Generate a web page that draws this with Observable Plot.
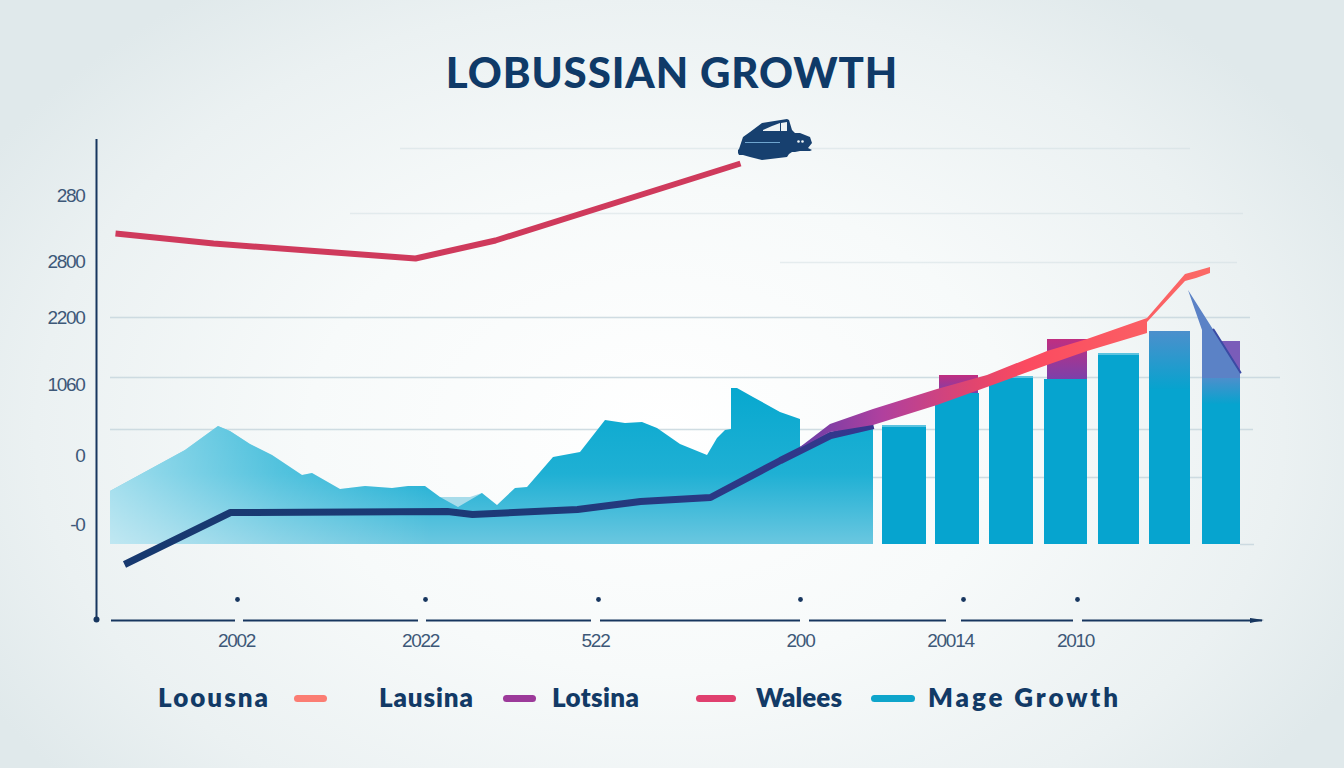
<!DOCTYPE html>
<html><head><meta charset="utf-8">
<script src="https://cdn.jsdelivr.net/npm/d3@7"></script>
<script src="https://cdn.jsdelivr.net/npm/@observablehq/plot@0.6"></script>
<style>
html,body{margin:0;padding:0}
body{width:1344px;height:768px;overflow:hidden;position:relative;
 background:radial-gradient(ellipse 780px 540px at 660px 430px,#ffffff 0%,#f7fafa 45%,#ebf1f2 80%,#e0e9eb 100%);}
#title{height:130px;margin:0;position:relative}
#title span{position:absolute;left:0;width:1344px;top:44px;text-align:center;font:900 42px/56px Lato,sans-serif;color:#0f3a68;letter-spacing:0.9px}
#chart{height:530px}
#chart svg{display:block}
#chart text{letter-spacing:-1.3px}
#legend{height:108px;position:relative;font:800 26px/30px Lato,sans-serif;color:#123a66;letter-spacing:2.2px}
#legend span{position:absolute;top:22px;white-space:nowrap}
#legend i{position:absolute;top:35px;height:7px;border-radius:4px}
</style></head><body>
<h1 id="title"><span>LOBUSSIAN GROWTH</span></h1>
<div id="chart"></div>
<div id="legend"></div>
<script>
// ---- data (x: position along the time axis, y: growth units) ----
const areaX=[0,75,108,120,140,162,192,202,230,255,282,298,315,330,348,372,387,405,417,443,470,495,515,532,547,570,597,607,615,621,621,627,643,670,690,690,720,763];
const areaY=[53,94,118,113,100,89,69,71,55,58,56,58,58,47,37,51,39,56,57,87,92,124,121,122,116,100,89,106,114,115,156,156,147,132,125,94,107,119];
const ghostX=[330,360,372];
const ghostY=[47,47,51];
const redX=[5,103,305,385,630];
const redY=[311,301,286,304,381];
const navyX=[14,120,337,362,467,530,600,670,720,763];
const navyY=[-20,32,33,30,35,43,47,84,109,119];
const ribbonX=[690,720,763,827,877,937,977,1037,1037,1075,1086,1100];
const ribbonLow=[96,112,119,139,157,179,193,211,222,263,266,271];
const ribbonHigh=[97,120,135,155,169,193,205,226,226,270,273,277];
const barX1=[772,825,879,934,988,1039,1092];
const barX2=[816,869,923,977,1029,1080,1130];
const barTop=[119,151,168,165,191,213,166];
const capX1=[829,937,1092];
const capX2=[868,977,1130];
const capLow=[151,165,166];
const capTop=[169,205,203];
const wedgeX=[1078,1092,1092,1130];
const wedgeLow=[254,214,166,166];
const wedgeHigh=[254,232,232,172];
const edgeX=[1103,1130];
const edgeY=[215,172];
const gridY=[396,331,282,227,167,115,67,0];
const gridX1=[290,240,670,0,0,0,690,1130];
const gridX2=[1080,1133,1127,1140,1170,1143,1130,1144];
const yTickVals=[349,283,227,160,89,20];
const yTickLabels=["280","2800","2200","1060","0","-0"];
const xDots=[127,315,488,690,853,967];
const xLabelPos=[126,310,485,690,840,965];
const xLabels=["2002","2022","522","200","20014","2010"];
const axisX1=[1,133,316,490,699,851,972];
const axisX2=[125,308,481,690,836,963,1152];
const carX=[628,629,633,640,652,677,679,682,685,690,700,702,698];
const carUp=[394,395,407,412,421,425,424,414,411,411,407,401,396];
const carLow=[391,389,389,387,384,387,390,392,392,393,393,394,396];
const winX=[653,662,670];
const winUp=[414,418,421];
const winLow=[413,413,413];
const win2X=[671,677];
const win2Up=[421,422];
const win2Low=[413,413];
const legendLabels=["Loousna","Lausina","Lotsina","Walees","Mage Growth"];
const legendColors=["#fb7d73","#9c3a9a","#e0406f","#0ea5cb"];

const ys=(xs,a)=>xs.map((x,i)=>({x,y:a[i]}));
const band=(xs,a,b)=>xs.map((x,i)=>({x,y1:a[i],y2:b[i]}));

const defs=()=>d3.create("svg:defs").html(`
<linearGradient id="gV" x1="0" y1="0" x2="0" y2="1"><stop offset="0" stop-color="#07a8cf"/><stop offset="0.55" stop-color="#1fb0d4"/><stop offset="1" stop-color="#6ac7e0"/></linearGradient>
<linearGradient id="gH" x1="0" y1="0" x2="1" y2="0"><stop offset="0" stop-color="#fff" stop-opacity="0.58"/><stop offset="0.22" stop-color="#fff" stop-opacity="0.24"/><stop offset="0.42" stop-color="#fff" stop-opacity="0"/></linearGradient>
<linearGradient id="gR" x1="0" y1="0" x2="1" y2="0"><stop offset="0" stop-color="#6a3ea8"/><stop offset="0.2" stop-color="#b0409e"/><stop offset="0.42" stop-color="#e0456f"/><stop offset="0.55" stop-color="#fb4a60"/><stop offset="1" stop-color="#fb6a66"/></linearGradient>
<linearGradient id="gN" x1="0" y1="0" x2="1" y2="0"><stop offset="0" stop-color="#17396f"/><stop offset="0.55" stop-color="#1e3a78"/><stop offset="1" stop-color="#35378f"/></linearGradient>
<linearGradient id="gB" x1="0" y1="0" x2="0" y2="1"><stop offset="0" stop-color="#4c8fcc"/><stop offset="1" stop-color="#07a3ce"/></linearGradient>
<linearGradient id="gC" x1="0" y1="0" x2="0" y2="1"><stop offset="0" stop-color="#c02e80"/><stop offset="1" stop-color="#7c40aa"/></linearGradient>
`).node();

const textColor="#3d5878", navy="#17365f";
const chart=Plot.plot({
  width:1344,height:530,margin:0,
  style:{background:"transparent",overflow:"visible",fontFamily:"'Liberation Sans',sans-serif"},
  x:{domain:[-110,1234],axis:null},
  y:{domain:[-116,414],axis:null},
  marks:[
    defs,
    Plot.ruleY(gridY.map((y,i)=>({y,a:gridX1[i],b:gridX2[i]})),{y:"y",x1:"a",x2:"b",stroke:"#c7d6dd",strokeWidth:1.5,strokeOpacity:(d)=>d.y>280?0.4:0.85}),
    Plot.areaY(ghostX.map((x,i)=>({x,y:ghostY[i]})),{x:"x",y1:37,y2:"y",fill:"#a8dcea"}),
    Plot.areaY(ys(areaX,areaY),{x:"x",y1:0,y2:"y",fill:"url(#gV)"}),
    Plot.areaY(ys(areaX,areaY),{x:"x",y1:0,y2:"y",fill:"url(#gH)"}),
    Plot.rect(barX1.map((a,i)=>({a,b:barX2[i],t:barTop[i]})),{x1:"a",x2:"b",y1:0,y2:"t",fill:"#06a4cf"}),
    Plot.rect(barX1.map((a,i)=>({a,b:barX2[i],t:barTop[i]})).filter((d,i)=>[0,2,4].includes(i)),{x1:"a",x2:"b",y1:d=>d.t-2,y2:"t",fill:"#ffffff",fillOpacity:0.35}),
    Plot.rect([{a:barX1[5],b:barX2[5],t:barTop[5]}],{x1:"a",x2:"b",y1:155,y2:"t",fill:"url(#gB)"}),
    Plot.rect([{a:barX1[6],b:barX2[6],t:barTop[6]}],{x1:"a",x2:"b",y1:140,y2:"t",fill:"url(#gB)"}),
    Plot.rect(capX1.map((a,i)=>({a,b:capX2[i],l:capLow[i],t:capTop[i]})).slice(0,2),{x1:"a",x2:"b",y1:"l",y2:"t",fill:"url(#gC)"}),
    Plot.rect([{a:capX1[2],b:capX2[2],l:capLow[2],t:capTop[2]}],{x1:"a",x2:"b",y1:"l",y2:"t",fill:"#7a5cb9"}),
    Plot.areaY(band(wedgeX,wedgeLow,wedgeHigh),{x:"x",y1:"y1",y2:"y2",fill:"#5b82c6"}),
    Plot.line(ys(edgeX,edgeY),{x:"x",y:"y",stroke:"#3a4aa4",strokeWidth:2}),
    Plot.line(ys(navyX,navyY),{x:"x",y:"y",stroke:"url(#gN)",strokeWidth:7,strokeLinecap:"butt",strokeLinejoin:"round"}),
    Plot.areaY(band(ribbonX,ribbonLow,ribbonHigh),{x:"x",y1:"y1",y2:"y2",fill:"url(#gR)"}),
    Plot.line(ys(redX,redY),{x:"x",y:"y",stroke:"#cf3a5c",strokeWidth:6,strokeLinecap:"butt",strokeLinejoin:"round"}),
    // axes
    Plot.ruleX([-14],{y1:-76,y2:405,stroke:navy,strokeWidth:2}),
    Plot.dot([{x:-14,y:-75}],{x:"x",y:"y",r:3,fill:navy}),
    Plot.ruleY(axisX1.map((a,i)=>({a,b:axisX2[i]})),{y:-76,x1:"a",x2:"b",stroke:navy,strokeWidth:2}),
    Plot.areaY(band([1140,1154],[-79,-76],[-74,-76]),{x:"x",y1:"y1",y2:"y2",fill:navy}),
    Plot.dot(xDots,{x:d=>d,y:-55,r:2.4,fill:navy}),
    Plot.text(xLabels.map((t,i)=>({t,x:xLabelPos[i]})),{x:"x",y:-96,text:"t",fill:textColor,fontSize:19}),
    Plot.text(yTickLabels.map((t,i)=>({t,y:yTickVals[i]})),{x:-26,y:"y",text:"t",textAnchor:"end",fill:textColor,fontSize:19}),
    // car
    Plot.areaY(band(carX,carLow,carUp),{x:"x",y1:"y1",y2:"y2",fill:"#17406f"}),
    Plot.areaY(band(winX,winLow,winUp),{x:"x",y1:"y1",y2:"y2",fill:"#eef3f4"}),
    Plot.areaY(band(win2X,win2Low,win2Up),{x:"x",y1:"y1",y2:"y2",fill:"#eef3f4"}),
    Plot.dot([688,692],{x:d=>d,y:403,r:1.3,fill:"#eef3f4"}),
    Plot.ruleY([402],{x1:635,x2:670,stroke:"#6fa5cf",strokeWidth:1}),
  ]
});
document.getElementById("chart").append(chart);

const legendLeft=[158,379,552,756,928], legendW=[110,94,87,86,190], swatchLeft=[294,503,696,871], swatchW=[33,33,40,44];
const lg=document.getElementById("legend");
legendLabels.forEach((t,i)=>{const s=document.createElement("span");s.textContent=t;s.style.left=legendLeft[i]+"px";s.style.letterSpacing="0px";lg.append(s);
  s.style.letterSpacing=((legendW[i]-s.getBoundingClientRect().width)/(t.length-1))+"px";});
legendColors.forEach((c,i)=>{const s=document.createElement("i");s.style.left=swatchLeft[i]+"px";s.style.width=swatchW[i]+"px";s.style.background=c;lg.append(s);});
</script></body></html>
